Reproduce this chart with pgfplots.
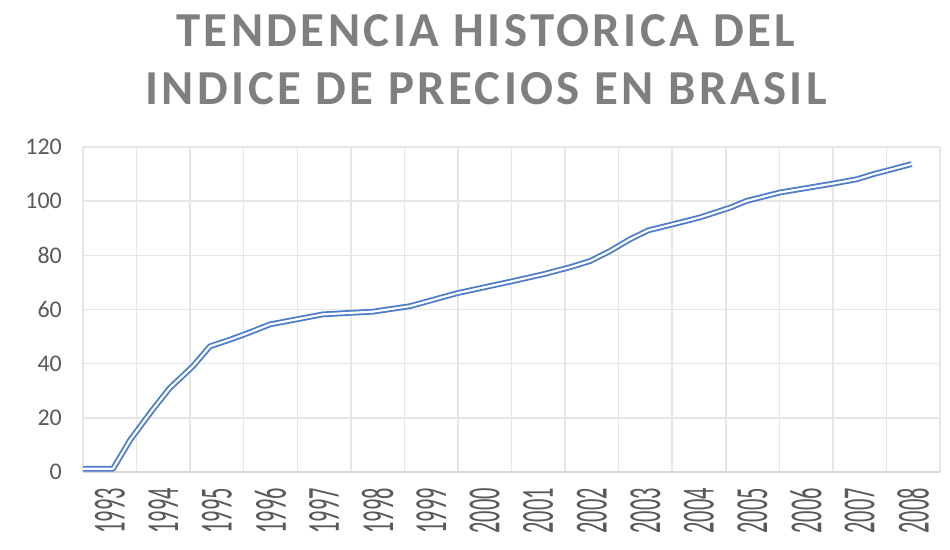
\documentclass[border=0pt]{standalone}
\usepackage{fontspec}
\setmainfont{Carlito}
\newfontfamily\titlefont[LetterSpace=7]{Carlito}
\usepackage{pgfplots}
\pgfplotsset{compat=1.18}
\definecolor{titlegray}{HTML}{7F7F7F}
\definecolor{labelgray}{HTML}{595959}
\definecolor{gridgray}{HTML}{E6E6E6}
\definecolor{axisgray}{HTML}{D9D9D9}
\definecolor{lineblue}{HTML}{4A7CC9}
\pgfplotstableread{
year value
1992.50 1.2
1993.06 1.2
1993.38 11.8
1993.80 23.0
1994.12 31.0
1994.55 39.0
1994.87 46.4
1995.25 48.9
1995.58 51.3
1995.99 54.5
1996.98 58.2
1997.91 59.2
1998.60 61.2
1999.48 66.0
2000.53 70.5
2001.09 73.0
2001.59 75.6
2001.97 77.9
2002.34 81.6
2002.71 85.9
2003.05 89.2
2003.52 91.5
2004.02 94.0
2004.58 97.6
2004.89 100.1
2005.51 103.2
2006.45 106.3
2006.95 108.1
2007.26 110.0
2007.57 111.6
2007.97 113.7
}\datatable
\begin{document}
\begin{tikzpicture}[x=1bp,y=1bp]
\useasboundingbox (0,0) rectangle (950,550);
\node[anchor=base, text=titlegray, font=\titlefont\bfseries\fontsize{49}{58}\selectfont] at (486,503) {TENDENCIA HISTORICA DEL};
\node[anchor=base, text=titlegray, font=\titlefont\bfseries\fontsize{49}{58}\selectfont] at (486,445) {INDICE DE PRECIOS EN BRASIL};
\begin{axis}[
  at={(83bp,78bp)}, anchor=south west,
  scale only axis, width=857bp, height=325bp,
  xmin=1992.5, xmax=2008.5, ymin=0, ymax=120,
  ytick={0,20,...,120},
  xtick={1993,...,2008},
  minor xtick={1992.5,1993.5,...,2008.5},
  xmajorgrids=false, xminorgrids=true, ymajorgrids=true,
  grid style={draw=gridgray, line width=1.5bp},
  minor grid style={draw=gridgray, line width=1.5bp},
  major tick length=0pt, minor tick length=0pt,
  axis x line*=bottom, axis y line*=left,
  axis line style={-},
  y axis line style={draw=none},
  x axis line style={draw=axisgray, line width=2bp},
  /pgf/number format/assume math mode=true,
  /pgf/number format/1000 sep={},
  yticklabel style={font=\fontsize{24}{26}\selectfont, text=labelgray, anchor=east, inner sep=0pt},
  yticklabel shift=21bp,
  xticklabel={\scalebox{1}[2.05]{\pgfmathprintnumber[1000 sep={}]{\tick}}},
  xticklabel style={font=\fontsize{22.5}{24}\selectfont, text=labelgray, rotate=90, anchor=east, inner sep=0pt},
  xticklabel shift=16bp,
  clip=false,
]
\addplot[draw=lineblue, line width=1.8bp, double=white, double distance=2.2bp, line join=round, mark=none] table[x=year, y=value] {\datatable};
\end{axis}
\end{tikzpicture}
\end{document}
